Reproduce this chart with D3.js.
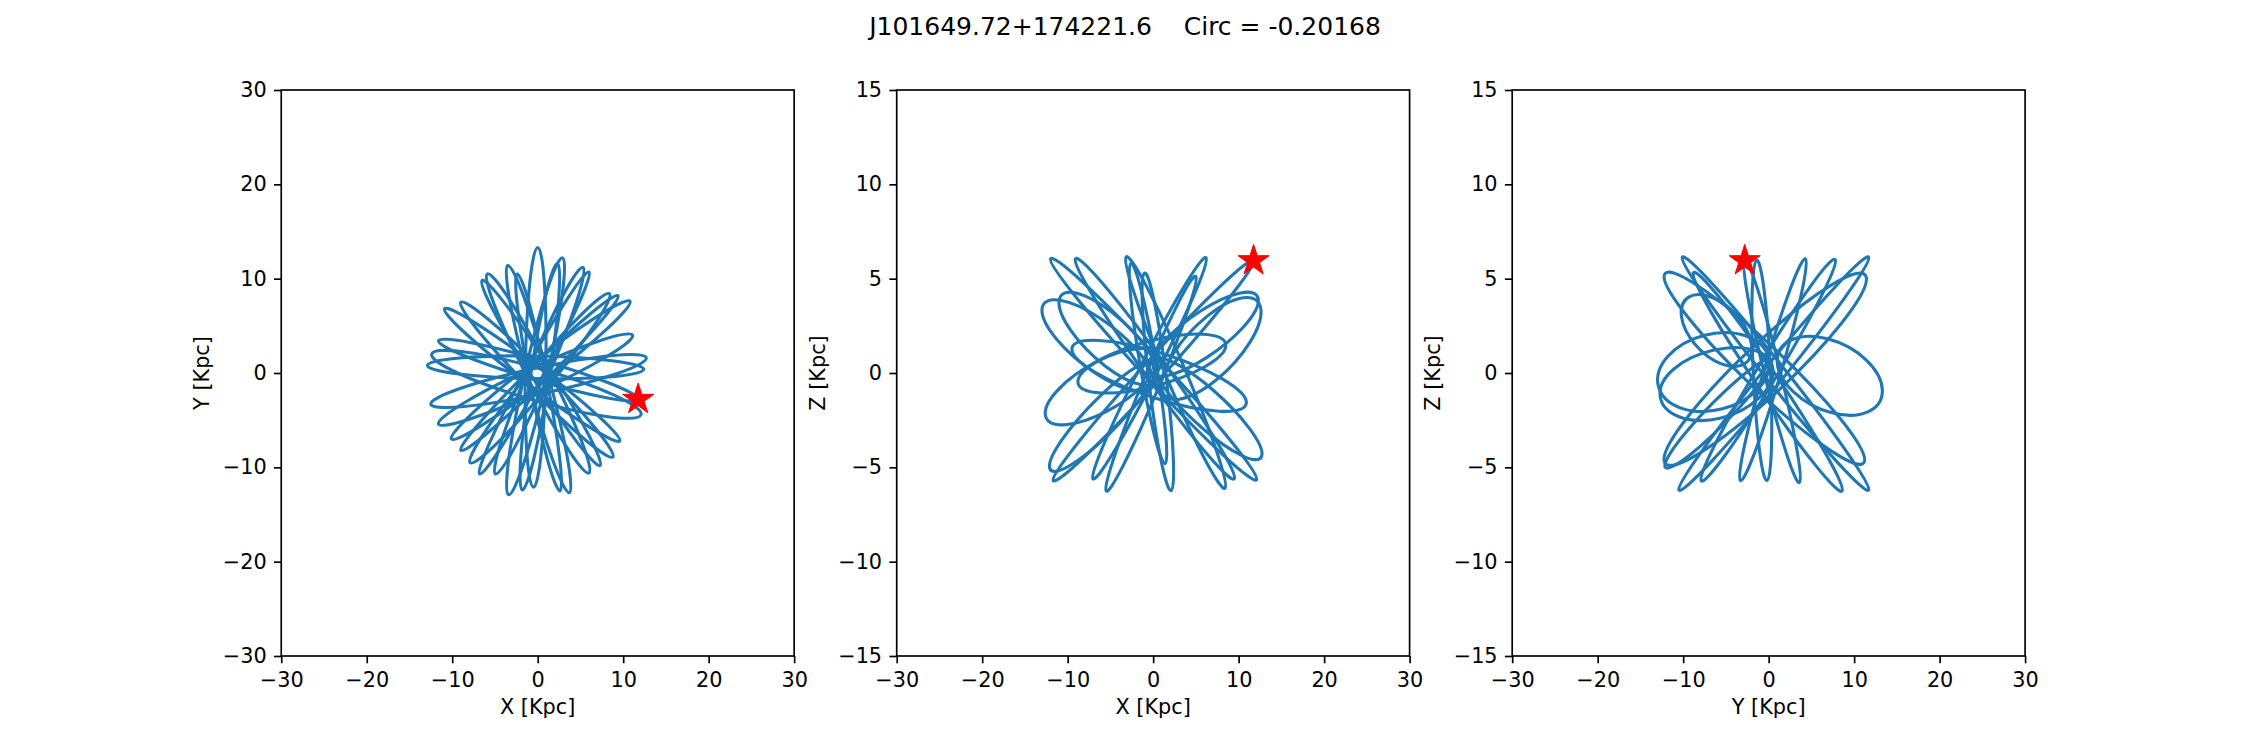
<!DOCTYPE html>
<html>
<head>
<meta charset="utf-8">
<script src="https://cdn.jsdelivr.net/npm/d3@7"></script>
<style>
  body { margin: 0; background: #fff; }
  svg { display: block; font-family: "DejaVu Sans", sans-serif; }
</style>
</head>
<body>
<svg id="fig" width="2250" height="750"></svg>
<script>
// values (kpc)
const title = "J101649.72+174221.6    Circ = -0.20168";
const xTicks = [-30, -20, -10, 0, 10, 20, 30];
const yTicksXY = [-30, -20, -10, 0, 10, 20, 30];
const zTicks = [-15, -10, -5, 0, 5, 10, 15];
const starXYZ = [11.75, -2.8, 5.95];

// each orbit loop: tip, side, opposite tip, side
const xyLoops = [
  [[0, 13.3], [0.95, 0.58], [-0.5, -12.1], [-1.45, 0.62]],
  [[2.3, 11.6], [1.33, -0.58], [-1.8, -12.4], [-0.83, -0.22]],
  [[5.3, 11.2], [1.27, -0.26], [-4.95, -10.7], [-0.91, 0.76]],
  [[6.0, 10.7], [0.46, -0.51], [-6.8, -10.7], [-1.26, 0.51]],
  [[8.4, 8.4], [1.21, -1.43], [-7.9, -9.5], [-0.71, 0.33]],
  [[10.8, 7.6], [1.04, -0.68], [-10.1, -7.0], [-0.34, 1.28]],
  [[9.4, 8.2], [0.87, -0.75], [-9.0, -8.2], [-0.47, 0.75]],
  [[11.1, 4.0], [0.25, -1.9], [-11.6, -5.4], [-0.75, 0.5]],
  [[12.7, 1.6], [0.37, -2.22], [-12.5, -3.3], [-0.17, 0.52]],
  [[12.4, 0.4], [-0.27, -0.6], [-12.9, 0.8], [-0.23, 1.8]],
  [[11.8, -2.8], [-0.18, -0.76], [-11.6, 3.4], [0.38, 1.36]],
  [[12.1, -4.4], [-0.58, -2.85], [-12.4, 2.0], [0.28, 0.45]],
  [[9.6, -7.2], [-1.27, -1.11], [-10.9, 6.8], [-0.03, 0.71]],
  [[8.8, -8.9], [-0.91, -1.58], [-9.0, 7.5], [0.71, 0.18]],
  [[7.3, -9.8], [-0.5, -0.63], [-6.5, 9.8], [1.3, 0.63]],
  [[3.7, -12.7], [-1.05, -0.99], [-3.5, 11.4], [1.25, -0.31]],
  [[2.6, -12.5], [-0.88, -1.21], [-2.4, 10.5], [1.08, -0.79]],
  [[6.0, -10.6], [-1.08, -0.69], [-5.9, 10.5], [1.18, 0.59]],
  [[-3.4, -12.9], [-1.51, -0.03], [2.9, 12.2], [1.01, -0.67]]
];

const xzLoops = [
  [[-12.0, 6.05], [0.55, 0.8], [12.1, -5.65], [-0.45, -0.4]],
  [[-9.1, 6.05], [0.8, 0.83], [9.5, -5.6], [-0.4, -0.38]],
  [[-3.15, 6.15], [3.5, 0.43], [8.4, -6.1], [1.7, -0.37]],
  [[-1.0, 5.3], [1.55, -0.32], [2.1, -6.24], [-0.45, -0.62]],
  [[-2.6, 5.8], [0.3, 0.65], [1.4, -4.8], [-1.5, 0.35]],
  [[11.75, 5.95], [0.53, -0.43], [-11.7, -5.7], [-0.48, 0.68]],
  [[6.2, 6.1], [0.17, -0.25], [-7.05, -5.6], [-1.03, 0.75]],
  [[5.0, 5.1], [0.35, -1.07], [-5.5, -6.24], [-0.85, -0.07]],
  [[-13.0, 3.4], [-6.2, 2.9], [0.0, -0.5], [-6.8, 0.0]],
  [[-11.0, 3.85], [-4.8, 3.2], [0.5, -0.2], [-5.7, 0.4]],
  [[12.6, 3.4], [6.3, 3.0], [1.0, -0.8], [7.3, -0.4]],
  [[12.3, 3.9], [5.6, 3.3], [-0.5, 0.2], [6.2, 0.8]],
  [[0.0, 0.6], [7.0, -0.9], [12.7, -4.4], [5.7, -2.9]],
  [[0.5, 0.8], [-6.6, 0.6], [-12.6, -2.25], [-5.5, -2.05]],
  [[0.5, 0.5], [-6.4, -1.3], [-12.1, -5.05], [-5.2, -3.25]],
  [[-9.5, 1.3], [1.0, 1.05], [10.9, -1.6], [0.4, -1.35]],
  [[-8.8, -0.5], [0.1, -0.7], [8.5, 1.5], [-0.4, 1.7]]
];

const yzLoops = [
  [[-10.1, 6.13], [1.3, 0.52], [11.7, -6.2], [0.3, -0.59]],
  [[-8.8, 5.3], [0.5, 0.13], [8.6, -6.24], [-0.7, -1.07]],
  [[11.7, 6.13], [1.1, -0.59], [-10.5, -6.2], [0.1, 0.52]],
  [[7.8, 6.0], [0.55, -0.45], [-7.9, -5.7], [-0.65, 0.75]],
  [[11.4, 5.1], [0.5, -1.2], [-12.2, -4.7], [-1.3, 1.6]],
  [[-2.8, 5.95], [1.2, 0.38], [3.6, -5.8], [-0.4, -0.23]],
  [[-1.4, 5.98], [0.2, 0.24], [-0.2, -5.7], [-1.8, 0.04]],
  [[4.3, 6.05], [1.4, -0.03], [-3.3, -5.7], [-0.4, 0.38]],
  [[1.0, 0.6], [7.0, 1.8], [13.3, -0.9], [7.3, -2.1]],
  [[0.0, 0.8], [-7.5, 2.0], [-12.9, -0.7], [-5.4, -1.9]],
  [[0.5, 0.2], [-6.5, 1.2], [-12.7, -1.2], [-5.7, -2.4]],
  [[-2.0, 1.5], [-6.6, 4.0], [-10.2, 3.0], [-5.6, 0.5]],
  [[-12.2, 5.2], [0.3, 1.45], [11.2, -4.7], [-1.3, -0.95]],
  [[0.3, 0.5], [-5.2, -1.0], [-12.1, -4.8], [-6.6, -3.3]]
];

const panels = [
  { loops: xyLoops, star: [starXYZ[0], starXYZ[1]], yDomain: [-30, 30], yTicks: yTicksXY, xLabel: "X [Kpc]", yLabel: "Y [Kpc]" },
  { loops: xzLoops, star: [starXYZ[0], starXYZ[2]], yDomain: [-15, 15], yTicks: zTicks, xLabel: "X [Kpc]", yLabel: "Z [Kpc]" },
  { loops: yzLoops, star: [starXYZ[1], starXYZ[2]], yDomain: [-15, 15], yTicks: zTicks, xLabel: "Y [Kpc]", yLabel: "Z [Kpc]" }
];

const lefts = [281.25, 896.7, 1512.2];
const axTop = 90, axW = 512.9, axH = 566;
const tickLen = 7.3, lw = 1.67, fontPx = "20.8px";

const svg = d3.select("#fig");
svg.append("rect").attr("width", 2250).attr("height", 750).attr("fill", "#fff");

svg.append("text")
  .attr("x", 1125).attr("y", 35)
  .attr("text-anchor", "middle")
  .style("font-size", "25px")
  .style("white-space", "pre")
  .text(title);

panels.forEach((p, i) => {
  const g = svg.append("g").attr("transform", `translate(${lefts[i]},${axTop})`);
  const x = d3.scaleLinear().domain([-30, 30]).range([0, axW]);
  const y = d3.scaleLinear().domain(p.yDomain).range([axH, 0]);

  const line = d3.line()
    .x(d => x(d[0]))
    .y(d => y(d[1]))
    .curve(d3.curveCardinalClosed.tension(-0.66));

  g.append("g").selectAll("path")
    .data(p.loops)
    .join("path")
    .attr("d", line)
    .attr("fill", "none")
    .attr("stroke", "#1f77b4")
    .attr("stroke-width", 3.1)
    .attr("stroke-linejoin", "round");

  g.append("path")
    .attr("d", d3.symbol(d3.symbolStar, 300)())
    .attr("transform", `translate(${x(p.star[0])},${y(p.star[1])})`)
    .attr("fill", "red")
    .attr("stroke", "red")
    .attr("stroke-width", 1);

  const xAxis = g.append("g").attr("transform", `translate(0,${axH})`)
    .call(d3.axisBottom(x).tickValues(xTicks).tickSize(tickLen).tickPadding(8.5).tickFormat(d3.format("d")));
  const yAxis = g.append("g")
    .call(d3.axisLeft(y).tickValues(p.yTicks).tickSize(tickLen).tickPadding(7.3).tickFormat(d3.format("d")));
  [xAxis, yAxis].forEach(a => {
    a.select(".domain").remove();
    a.selectAll(".tick line").attr("stroke", "#000").attr("stroke-width", lw);
    a.selectAll(".tick text").attr("fill", "#000").style("font-size", fontPx).attr("font-family", "DejaVu Sans");
  });

  g.append("rect")
    .attr("width", axW).attr("height", axH)
    .attr("fill", "none").attr("stroke", "#000").attr("stroke-width", lw);

  g.append("text")
    .attr("x", axW / 2).attr("y", axH + 58)
    .attr("text-anchor", "middle")
    .style("font-size", fontPx)
    .text(p.xLabel);

  g.append("text")
    .attr("transform", `translate(-72,${axH / 2}) rotate(-90)`)
    .attr("text-anchor", "middle")
    .style("font-size", fontPx)
    .text(p.yLabel);
});
</script>
</body>
</html>
